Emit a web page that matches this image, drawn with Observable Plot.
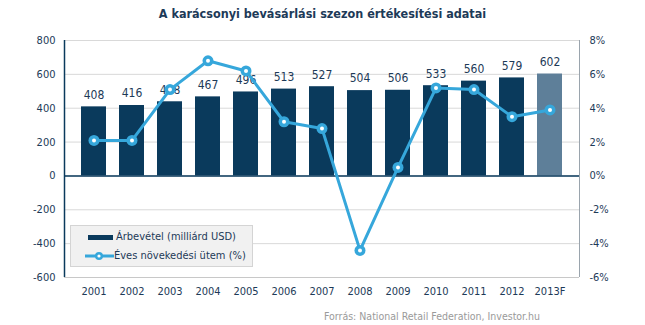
<!DOCTYPE html>
<html>
<head>
<meta charset="utf-8">
<script src="https://cdn.jsdelivr.net/npm/d3@7"></script>
<script src="https://cdn.jsdelivr.net/npm/@observablehq/plot@0.6"></script>
<style>
  html, body { margin: 0; padding: 0; background: #fff; }
  #wrap { position: relative; width: 645px; height: 325px; font-family: "Liberation Sans Narrow", "DejaVu Sans Condensed", "Liberation Sans", sans-serif; }
  #title { height: 28px; line-height: 27px; text-align: center; font-size: 12.5px; font-weight: bold; color: #1d3a58; }
  #legend { position: absolute; left: 70px; top: 225px; width: 183px; height: 42px; background: #f1f1f1; border: 1px solid #d4d4d4; box-sizing: border-box; font-size: 11px; color: #1d3a58; }
  .li { position: absolute; left: 0; height: 14px; line-height: 14px; white-space: nowrap; }
  #caption { position: absolute; top: 310px; right: 105px; font-size: 10.5px; color: #9a9a9a; }
  svg { display: block; }
</style>
</head>
<body>
<div id="wrap">
  <div id="title">A karácsonyi bevásárlási szezon értékesítési adatai</div>
  <div id="chart"></div>
  <div id="legend"></div>
  <div id="caption">Forrás: National Retail Federation, Investor.hu</div>
</div>
<script>
const years = ["2001","2002","2003","2004","2005","2006","2007","2008","2009","2010","2011","2012","2013F"];
const revenue = [408,416,438,467,496,513,527,504,506,533,560,579,602];
const growth = [2.1,2.1,5.1,6.8,6.2,3.2,2.8,-4.4,0.5,5.2,5.1,3.5,3.9];
const leftTicks = [-600,-400,-200,0,200,400,600,800];
const seriesNames = ["Árbevétel (milliárd USD)", "Éves növekedési ütem (%)"];

const navy = "#0a3a5c";
const forecast = "#5e7f99";
const blue = "#36a7db";
const textCol = "#1d3a58";
const font = '"Liberation Sans Narrow", "DejaVu Sans Condensed", "Liberation Sans", sans-serif';

const data = years.map((y, i) => ({year: y, rev: revenue[i], g: growth[i], gy: growth[i] * 100, fc: y.endsWith("F")}));

const chart = Plot.plot({
  width: 645,
  height: 275,
  marginTop: 12,
  marginBottom: 26,
  marginLeft: 64,
  marginRight: 66,
  style: {fontFamily: font, fontSize: "11px", color: textCol, background: "transparent"},
  x: {domain: years, padding: 0.34, label: null},
  y: {domain: [-600, 800], label: null},
  marks: [
    Plot.gridY(leftTicks, {stroke: "#d9d9d9", strokeOpacity: 1}),
    Plot.barY(data, {x: "year", y: "rev", fill: d => d.fc ? forecast : navy}),
    Plot.text(data, {x: "year", y: "rev", text: d => String(d.rev), dy: -12, fill: textCol, fontSize: 12}),
    Plot.ruleY([0], {stroke: navy, strokeWidth: 1.5}),
    Plot.axisY(leftTicks, {anchor: "left", tickSize: 0, tickPadding: 9, fill: textCol, label: null, tickFormat: d => String(d)}),
    Plot.axisY(leftTicks, {anchor: "right", tickSize: 0, tickPadding: 10, fill: textCol, label: null, tickFormat: d => String(d / 100) + "%"}),
    Plot.axisX({tickSize: 0, tickPadding: 10, fill: textCol, label: null}),
    Plot.line(data, {x: "year", y: "gy", stroke: blue, strokeWidth: 3}),
    Plot.dot(data, {x: "year", y: "gy", r: 5.5, fill: blue, stroke: "none"}),
    Plot.dot(data, {x: "year", y: "gy", r: 2, fill: "#fff", stroke: "none"})
  ]
});
document.getElementById("chart").appendChild(chart);

// frame lines: left dark axis, right gray, bottom gray
const frame = Plot.plot({
  width: 645, height: 275, marginTop: 12, marginBottom: 26, marginLeft: 64, marginRight: 66,
  x: {domain: [0, 1]}, y: {domain: [-600, 800]},
  style: {background: "transparent"},
  marks: [
    Plot.ruleX([0], {stroke: navy, strokeWidth: 1.5}),
    Plot.ruleX([1], {stroke: "#9aa4ad", strokeWidth: 1}),
    Plot.ruleY([-600], {stroke: "#c8c8c8"}),
    Plot.axisX({ticks: []}), Plot.axisY({ticks: []})
  ]
});
frame.style.position = "absolute";
frame.style.left = "0px";
frame.style.top = "28px";
frame.style.pointerEvents = "none";
document.getElementById("wrap").appendChild(frame);

// legend
const lg = document.getElementById("legend");
lg.innerHTML = `
  <div class="li" style="top:4px">
    <svg width="48" height="14" style="display:inline-block;vertical-align:top"><rect x="17" y="5" width="25" height="5" fill="${navy}"/></svg><span style="position:absolute;left:45px;top:0">${seriesNames[0]}</span>
  </div>
  <div class="li" style="top:23px">
    <svg width="48" height="14" style="display:inline-block;vertical-align:top"><line x1="14" x2="43" y1="7" y2="7" stroke="${blue}" stroke-width="3"/><circle cx="28" cy="7" r="4" fill="${blue}"/><circle cx="28" cy="7" r="1.6" fill="#fff"/></svg><span style="position:absolute;left:43px;top:0">${seriesNames[1]}</span>
  </div>`;
</script>
</body>
</html>
